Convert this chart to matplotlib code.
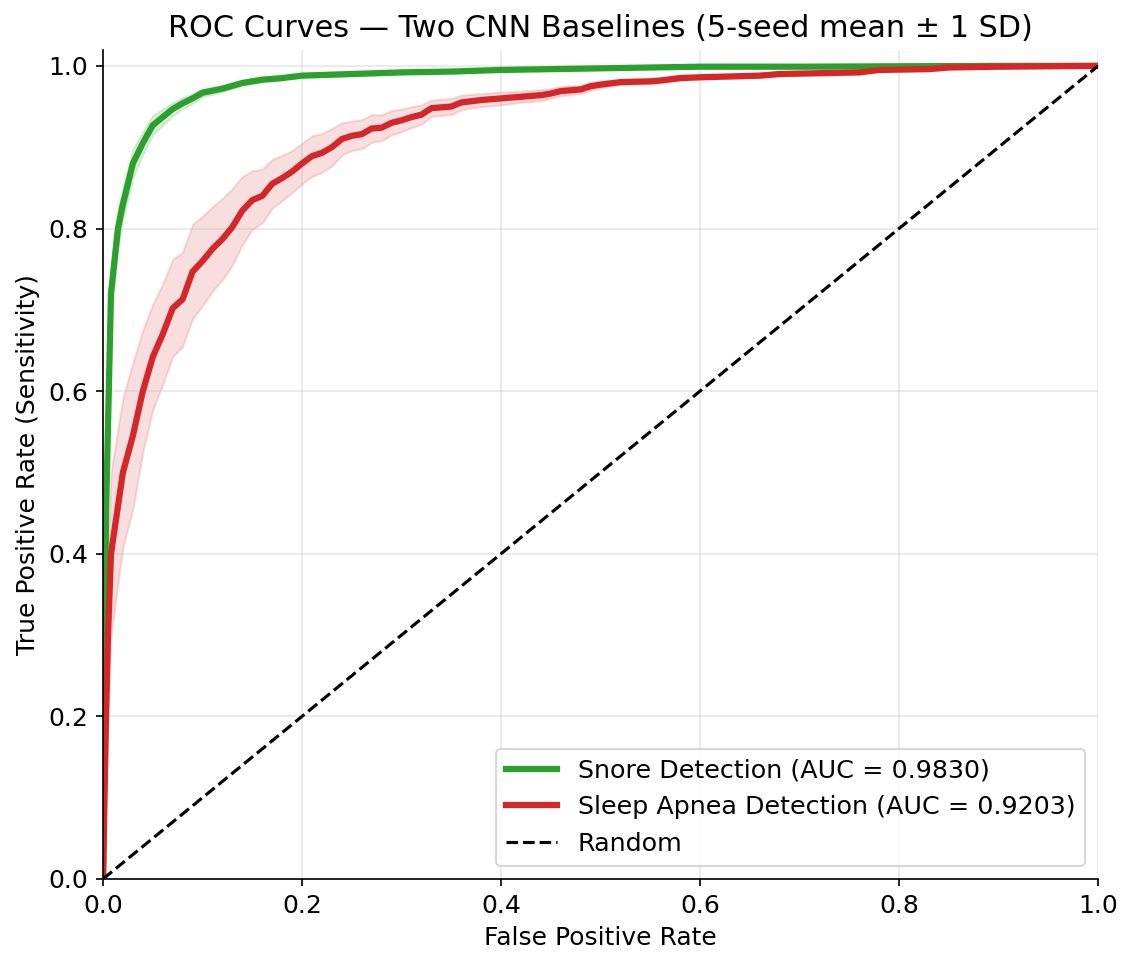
import numpy as np
import matplotlib
matplotlib.use("Agg")
import matplotlib.pyplot as plt

# Snore detection: mean ROC and SD across 5 seeds
fpr_snore = [0.0, 0.003, 0.008, 0.015, 0.02, 0.03, 0.04, 0.05, 0.06, 0.07,
             0.08, 0.09, 0.10, 0.12, 0.14, 0.16, 0.18, 0.20, 0.25, 0.30,
             0.35, 0.40, 0.50, 0.60, 0.70, 0.80, 0.90, 1.0]
tpr_snore = [0.0, 0.45, 0.72, 0.80, 0.83, 0.88, 0.905, 0.927, 0.937, 0.947,
             0.954, 0.960, 0.967, 0.972, 0.979, 0.983, 0.985, 0.988, 0.990, 0.992,
             0.993, 0.995, 0.997, 0.999, 0.999, 0.9995, 1.0, 1.0]
sd_snore = [0.0, 0.04, 0.03, 0.025, 0.02, 0.018, 0.014, 0.012, 0.010, 0.008,
            0.007, 0.006, 0.005, 0.004, 0.003, 0.003, 0.002, 0.002, 0.002, 0.001,
            0.001, 0.001, 0.001, 0.001, 0.0, 0.0, 0.0, 0.0]

# Sleep apnea detection: mean ROC and SD across 5 seeds
fpr_apnea = [0.0, 0.003, 0.005, 0.008, 0.02, 0.03, 0.04, 0.05, 0.06, 0.07,
             0.08, 0.09, 0.10, 0.11, 0.12, 0.13, 0.14, 0.15, 0.16, 0.17,
             0.18, 0.19, 0.20, 0.21, 0.22, 0.23, 0.24, 0.25, 0.26, 0.27,
             0.28, 0.29, 0.30, 0.31, 0.32, 0.33, 0.35, 0.36, 0.38, 0.40,
             0.42, 0.44, 0.45, 0.46, 0.48, 0.49, 0.50, 0.52, 0.55, 0.56,
             0.58, 0.60, 0.63, 0.66, 0.68, 0.72, 0.76, 0.78, 0.83, 0.85,
             0.90, 1.0]
tpr_apnea = [0.0, 0.20, 0.30, 0.40, 0.50, 0.545, 0.60, 0.642, 0.670, 0.702,
             0.713, 0.747, 0.760, 0.775, 0.787, 0.802, 0.822, 0.835, 0.840, 0.855,
             0.862, 0.870, 0.880, 0.889, 0.893, 0.900, 0.910, 0.914, 0.916, 0.923,
             0.924, 0.930, 0.933, 0.937, 0.940, 0.948, 0.950, 0.955, 0.958, 0.960,
             0.962, 0.964, 0.966, 0.969, 0.971, 0.975, 0.977, 0.980, 0.981, 0.982,
             0.985, 0.986, 0.987, 0.988, 0.990, 0.991, 0.992, 0.995, 0.996, 0.998,
             0.999, 1.0]
sd_apnea = [0.0, 0.08, 0.10, 0.10, 0.092, 0.09, 0.075, 0.065, 0.062, 0.060,
            0.058, 0.058, 0.055, 0.052, 0.050, 0.047, 0.042, 0.036, 0.033, 0.030,
            0.028, 0.026, 0.025, 0.025, 0.024, 0.023, 0.020, 0.018, 0.018, 0.017,
            0.016, 0.015, 0.014, 0.013, 0.012, 0.010, 0.010, 0.009, 0.008, 0.008,
            0.007, 0.007, 0.006, 0.006, 0.005, 0.005, 0.004, 0.003, 0.003, 0.003,
            0.003, 0.002, 0.002, 0.002, 0.002, 0.002, 0.002, 0.001, 0.001, 0.001,
            0.0, 0.0]

auc_snore = 0.9830
auc_apnea = 0.9203

fig = plt.figure(figsize=(1126 / 150, 958 / 150), dpi=150)
ax = fig.add_axes([0.0915, 0.0825, 0.8837, 0.8657])

series = [
    (fpr_snore, tpr_snore, sd_snore, "#2ca02c", f"Snore Detection (AUC = {auc_snore:.4f})"),
    (fpr_apnea, tpr_apnea, sd_apnea, "#d62728", f"Sleep Apnea Detection (AUC = {auc_apnea:.4f})"),
]
for fpr, tpr, sd, color, label in series:
    fpr = np.array(fpr)
    tpr = np.array(tpr)
    sd = np.array(sd)
    lo = np.clip(tpr - sd, 0, 1)
    hi = np.clip(tpr + sd, 0, 1)
    ax.fill_between(fpr, lo, hi, color=color, alpha=0.15)
    ax.plot(fpr, tpr, color=color, lw=3, label=label)

ax.plot([0, 1], [0, 1], "k--", lw=1.5, label="Random")

ax.set_xlim(0, 1.0)
ax.set_ylim(0, 1.02)
ax.set_xlabel("False Positive Rate", fontsize=12)
ax.set_ylabel("True Positive Rate (Sensitivity)", fontsize=12)
ax.set_title("ROC Curves \u2014 Two CNN Baselines (5-seed mean \u00b1 1 SD)", fontsize=14.5)
ax.tick_params(labelsize=12)
ax.grid(True, alpha=0.3)
ax.spines["top"].set_visible(False)
ax.spines["right"].set_visible(False)
ax.legend(loc="lower right", fontsize=12.2)

fig.savefig("out.png", dpi=150)
